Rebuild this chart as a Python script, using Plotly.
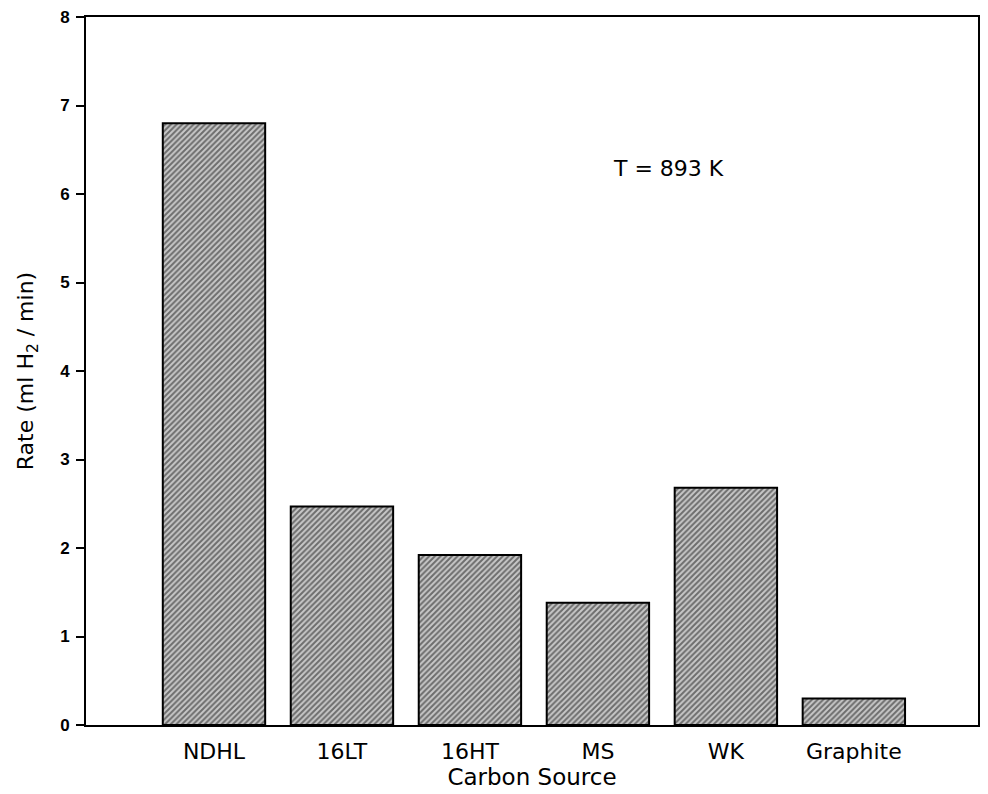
import plotly.graph_objects as go

categories = ["NDHL", "16LT", "16HT", "MS", "WK", "Graphite"]
rates = [6.8, 2.47, 1.92, 1.38, 2.68, 0.3]
y_ticks = [0, 1, 2, 3, 4, 5, 6, 7, 8]

x_pos = list(range(len(categories)))
FONT = "DejaVu Sans"

fig = go.Figure()
fig.add_trace(go.Bar(
    x=x_pos, y=rates, width=0.8,
    marker=dict(
        color="white",
        line=dict(color="black", width=2),
        pattern=dict(shape="/", fgcolor="#111111", bgcolor="#c8c8c8",
                     size=4, solidity=0.5, fillmode="overlay"),
    ),
    showlegend=False,
))

fig.add_annotation(x=3.55, y=6.29, text="T = 893 K", showarrow=False,
                   font=dict(size=22, color="black", family=FONT))

fig.update_layout(
    height=794,
    margin=dict(l=78, r=0, t=9, b=77),
    plot_bgcolor="white", paper_bgcolor="white",
    font=dict(family=FONT, color="black"),
    bargap=0.2,
)
fig.update_xaxes(
    range=[-1.0, 5.97], tickmode="array", tickvals=x_pos, ticktext=categories,
    tickfont=dict(size=22, family=FONT), ticks="", ticklabelstandoff=6,
    showline=True, linecolor="black", linewidth=2, mirror=True,
    showgrid=False, zeroline=False,
    title=dict(text="Carbon Source", font=dict(size=23, family=FONT), standoff=2),
)
fig.update_yaxes(
    range=[0, 8], tickvals=y_ticks,
    tickfont=dict(size=17, family="Liberation Sans", weight=700),
    ticks="outside", ticklen=8, tickwidth=1.5, tickcolor="black",
    ticklabelstandoff=3, ticklabeloverflow="allow",
    showline=True, linecolor="black", linewidth=2, mirror=True,
    showgrid=False, zeroline=False,
    title=dict(text="Rate (ml H<sub>2</sub> / min)", font=dict(size=22, family=FONT),
               standoff=20),
)

fig.write_html("out.html")
